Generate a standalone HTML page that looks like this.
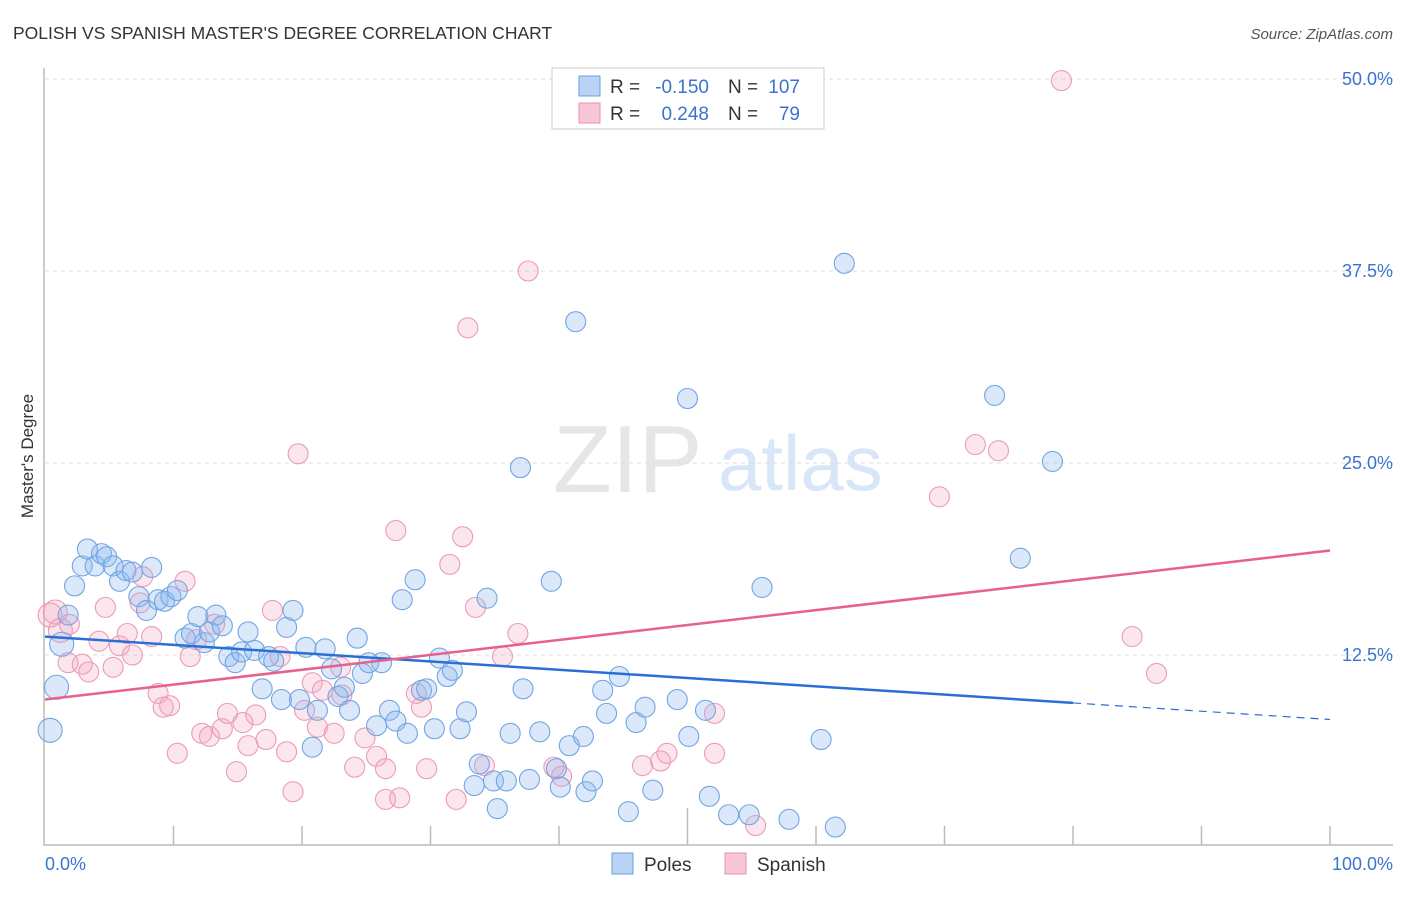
<!DOCTYPE html>
<html><head><meta charset="utf-8"><style>
body{margin:0;background:#fff;font-family:"Liberation Sans",sans-serif}
svg text{font-family:"Liberation Sans",sans-serif}
</style></head><body>
<svg id="chart" width="1406" height="892" xmlns="http://www.w3.org/2000/svg">
<text x="13" y="39" font-size="17.5" fill="#333">POLISH VS SPANISH MASTER'S DEGREE CORRELATION CHART</text>
<text x="1393" y="39" font-size="15" fill="#555" font-style="italic" text-anchor="end">Source: ZipAtlas.com</text>
<text transform="translate(33,456) rotate(-90)" font-size="17" fill="#333" text-anchor="middle">Master's Degree</text>
<g>
<text x="553" y="492" font-size="96" fill="#e6e6e6" font-family="Liberation Serif,serif">ZIP</text>
<text x="718" y="490" font-size="78" fill="#d8e6f7">atlas</text>
</g>
<g id="grid"></g>
<g id="axes"></g>
<g id="pts"></g>
<g id="trends"></g>
<g>
<rect x="552" y="68" width="272" height="61" fill="#fff" stroke="#ccc"/>
<rect x="579" y="76" width="21" height="20" fill="#b9d3f5" stroke="#6a9fe0"/>
<rect x="579" y="103" width="21" height="20" fill="#f8c6d6" stroke="#e890ad"/>
<text x="610" y="93" font-size="19" fill="#333">R =</text>
<text x="709" y="93" font-size="19" fill="#3a73d0" text-anchor="end">-0.150</text>
<text x="728" y="93" font-size="19" fill="#333">N =</text>
<text x="800" y="93" font-size="19" fill="#3a73d0" text-anchor="end">107</text>
<text x="610" y="120" font-size="19" fill="#333">R =</text>
<text x="709" y="120" font-size="19" fill="#3a73d0" text-anchor="end">0.248</text>
<text x="728" y="120" font-size="19" fill="#333">N =</text>
<text x="800" y="120" font-size="19" fill="#3a73d0" text-anchor="end">79</text>
</g>
<g>
<rect x="612" y="853" width="21" height="21" fill="#b9d3f5" stroke="#6a9fe0"/>
<text x="644" y="871" font-size="19" fill="#333">Poles</text>
<rect x="725" y="853" width="21" height="21" fill="#f8c6d6" stroke="#e890ad"/>
<text x="757" y="871" font-size="19" fill="#333">Spanish</text>
</g>
</svg>
<script>
const yTicks=[12.5,25,37.5,50];
const yTickLabels=["12.5%","25.0%","37.5%","50.0%"];
const xTickLabels=["0.0%","100.0%"];
const polesX=[0.4,0.9,1.3,1.8,2.3,2.9,3.3,3.9,4.4,4.8,5.3,5.8,6.3,6.8,7.3,7.9,8.3,8.8,9.3,9.8,10.3,10.9,11.4,11.9,12.4,12.8,13.3,13.8,14.3,14.8,15.3,15.8,16.3,16.9,17.4,17.8,18.4,18.8,19.3,19.8,20.3,20.8,21.2,21.8,22.3,22.8,23.3,23.7,24.3,24.7,25.2,25.8,26.2,26.8,27.3,27.8,28.2,28.8,29.3,29.7,30.3,30.7,31.3,31.7,32.3,32.8,33.4,33.8,34.4,34.9,35.2,35.9,36.2,37.0,37.2,37.7,38.5,39.4,39.8,40.1,40.8,41.3,41.9,42.1,42.6,43.4,43.7,44.7,45.4,46.0,46.7,47.3,49.2,50.0,50.1,51.4,51.7,53.2,54.8,55.8,57.9,60.4,61.5,62.2,73.9,75.9,78.4];
const polesY=[7.6,10.4,13.2,15.1,17.0,18.3,19.4,18.3,19.1,18.9,18.3,17.3,18.0,17.9,16.3,15.4,18.2,16.1,16.0,16.3,16.7,13.6,13.9,15.0,13.3,14.0,15.1,14.4,12.4,12.0,12.7,14.0,12.8,10.3,12.4,12.1,9.6,14.3,15.4,9.6,13.0,6.5,8.9,12.9,11.6,9.8,10.4,8.9,13.6,11.3,12.0,7.9,12.0,8.9,8.2,16.1,7.4,17.4,10.2,10.3,7.7,12.3,11.1,11.5,7.7,8.8,4.0,5.4,16.2,4.3,2.5,4.3,7.4,24.7,10.3,4.4,7.5,17.3,5.1,3.9,6.6,34.2,7.2,3.6,4.3,10.2,8.7,11.1,2.3,8.1,9.1,3.7,9.6,29.2,7.2,8.9,3.3,2.1,2.1,16.9,1.8,7.0,1.3,38.0,29.4,18.8,25.1];
const spanishX=[0.4,0.8,1.2,1.9,1.8,2.9,3.4,4.2,4.7,5.3,5.8,6.4,6.8,7.4,7.6,8.3,8.8,9.2,9.7,10.3,10.9,11.3,11.8,12.2,12.8,13.2,13.8,14.2,14.9,15.4,15.8,16.4,17.2,17.7,18.3,18.8,19.3,19.7,20.2,20.8,21.2,21.6,22.5,23.0,23.1,24.1,24.9,25.8,26.5,26.5,27.3,27.6,28.9,29.3,29.7,31.5,32.0,32.5,32.9,33.5,34.2,35.6,36.8,37.6,39.6,40.2,46.5,47.9,48.4,52.1,52.1,55.3,69.6,72.4,74.2,79.1,84.6,86.5];
const spanishY=[15.1,15.3,14.1,14.5,12.0,11.9,11.4,13.4,15.6,11.7,13.1,13.9,12.5,15.9,17.6,13.7,10.0,9.1,9.2,6.1,17.3,12.4,13.5,7.4,7.2,14.5,7.7,8.7,4.9,8.1,6.6,8.6,7.0,15.4,12.4,6.2,3.6,25.6,8.9,10.7,7.8,10.2,7.4,11.7,9.9,5.2,7.1,5.9,5.1,3.1,20.6,3.2,10.0,9.1,5.1,18.4,3.1,20.2,33.8,15.6,5.3,12.4,13.9,37.5,5.2,4.6,5.3,5.6,6.1,6.1,8.7,1.4,22.8,26.2,25.8,49.9,13.7,11.3];
const polesTrend=[13.7,-0.054];   // intercept, slope
const spanishTrend=[9.6,0.097];
const polesSolidEnd=80;

const NS="http://www.w3.org/2000/svg";
const X0=45,X1=1330,Y0=847,PXPER=192/12.5;
const sx=v=>X0+(X1-X0)*v/100;
const sy=v=>Y0-v*PXPER;
function mk(tag,attrs,parent){const e=document.createElementNS(NS,tag);for(const k in attrs)e.setAttribute(k,attrs[k]);parent.appendChild(e);return e;}
const grid=document.getElementById('grid'),axes=document.getElementById('axes'),pts=document.getElementById('pts'),tr=document.getElementById('trends');
yTicks.forEach((t,i)=>{
  const l=mk('line',{x1:45,x2:1393,y1:sy(t),y2:sy(t),stroke:'#ddd','stroke-dasharray':'4,4'},grid);
  
  
  const tx=mk('text',{x:1393,y:sy(t)+6,'font-size':18,fill:'#3a73d0','text-anchor':'end'},grid);
  tx.textContent=yTickLabels[i];
  
  
});
const ax=mk('path',{d:'M44,68 V845 H1393',fill:'none',stroke:'#bbb','stroke-width':1.5},axes);


for(let i=1;i<=10;i++){
  const x=sx(i*10);
  const tk=mk('line',{x1:x,x2:x,y1:i==5?808:826,y2:845,stroke:'#bbb','stroke-width':1.5},axes);
  
  
}
[[45,'start'],[1393,'end']].forEach((p,i)=>{
  const t=mk('text',{x:p[0],y:870,'font-size':18,fill:'#3a73d0','text-anchor':p[1]},axes);
  t.textContent=xTickLabels[i];
  
  
});
function drawPts(xs,ys,fill,stroke,name){
  xs.forEach((x,i)=>{
    const r=x<1.5?12:10;
    const c=mk('circle',{cx:sx(x),cy:sy(ys[i]),r:r,fill:fill,stroke:stroke,'stroke-width':1.1},pts);
    
    
  });
}
drawPts(spanishX,spanishY,'rgba(244,165,192,0.28)','#eb9bb6','spanish-point');
drawPts(polesX,polesY,'rgba(140,185,240,0.32)','#72a5e2','poles-point');
const f=(t,x)=>t[0]+t[1]*x;
const b1=mk('line',{x1:sx(0),y1:sy(f(polesTrend,0)),x2:sx(polesSolidEnd),y2:sy(f(polesTrend,polesSolidEnd)),stroke:'#2a6fd6','stroke-width':2.5},tr);


const b2=mk('line',{x1:sx(polesSolidEnd),y1:sy(f(polesTrend,polesSolidEnd)),x2:sx(100),y2:sy(f(polesTrend,100)),stroke:'#2a6fd6','stroke-width':1.2,'stroke-dasharray':'8,6'},tr);


const p1=mk('line',{x1:sx(0),y1:sy(f(spanishTrend,0)),x2:sx(100),y2:sy(f(spanishTrend,100)),stroke:'#e8608c','stroke-width':2.5},tr);


</script>
</body></html>
